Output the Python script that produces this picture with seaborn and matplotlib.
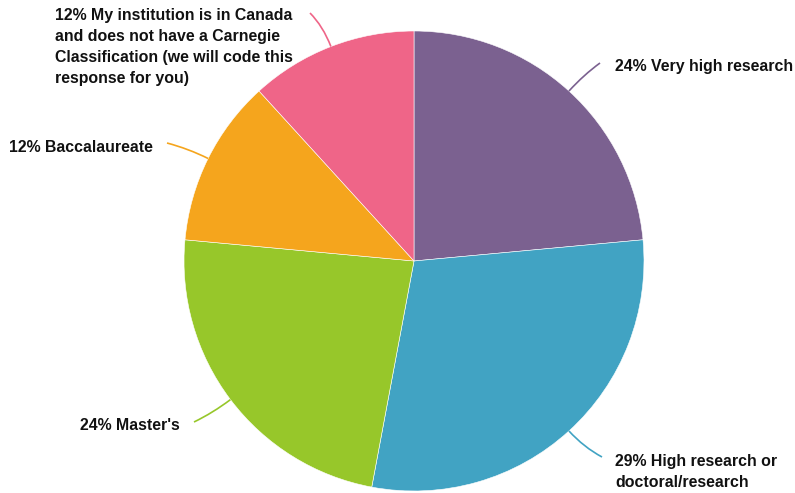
import numpy as np
import matplotlib
matplotlib.use("Agg")
import matplotlib.pyplot as plt
from matplotlib.path import Path
from matplotlib.patches import PathPatch
import seaborn as sns

# ---- data ----
categories = [
    "Very high research",
    "High research or\ndoctoral/research",
    "Master's",
    "Baccalaureate",
    "My institution is in Canada\nand does not have a Carnegie\nClassification (we will code this\nresponse for you)",
]
counts = [4, 5, 4, 2, 2]
percent_labels = ["24%", "29%", "24%", "12%", "12%"]
colors = ["#7B6190", "#41A3C3", "#97C72A", "#F5A51D", "#EF6588"]

sns.set_theme(style="white")
plt.rcParams["font.family"] = ["Liberation Sans", "DejaVu Sans"]

W, H = 795, 493
fig = plt.figure(figsize=(W / 100, H / 100), dpi=100)
ax = fig.add_axes([0, 0, 1, 1])

def fy(y):
    return H - y

cx, cy, r = 414, fy(261), 230
wedges, _ = ax.pie(counts, colors=colors, startangle=90, counterclock=False,
                   center=(cx, cy), radius=r, frame=True,
                   wedgeprops=dict(edgecolor="white", linewidth=0.4))
ax.set_xlim(0, W)
ax.set_ylim(0, H)
ax.set_aspect("equal")
ax.axis("off")

# label layout (pixel coords, y down): text anchor, alignment, leader end
layout = [
    dict(tx=615, ty=67, ha="left", va="center", ex=600, ey=63),
    dict(tx=615, ty=472, ha="left", va="center", ex=602, ey=457),
    dict(tx=180, ty=425, ha="right", va="center", ex=194, ey=422),
    dict(tx=153, ty=147, ha="right", va="center", ex=167, ey=143),
    dict(tx=55, ty=47, ha="left", va="center", ex=310, ey=13),
]

for w, cat, pct, col, lay in zip(wedges, categories, percent_labels, colors, layout):
    mid = np.deg2rad((w.theta1 + w.theta2) / 2)
    u = np.array([np.cos(mid), np.sin(mid)])
    p0 = np.array([cx, cy]) + r * u
    p1 = np.array([cx, cy]) + (r + 22) * u
    p2 = np.array([lay["ex"], fy(lay["ey"])])
    path = Path([p0, p1, p2], [Path.MOVETO, Path.CURVE3, Path.CURVE3])
    ax.add_patch(PathPatch(path, fc="none", ec=col, lw=1.2))
    ax.text(lay["tx"], fy(lay["ty"]), f"{pct} {cat}", ha=lay["ha"], va=lay["va"],
            fontsize=11.45, fontweight="bold", color="#111111", linespacing=1.5)

fig.savefig("out.png", dpi=100)
